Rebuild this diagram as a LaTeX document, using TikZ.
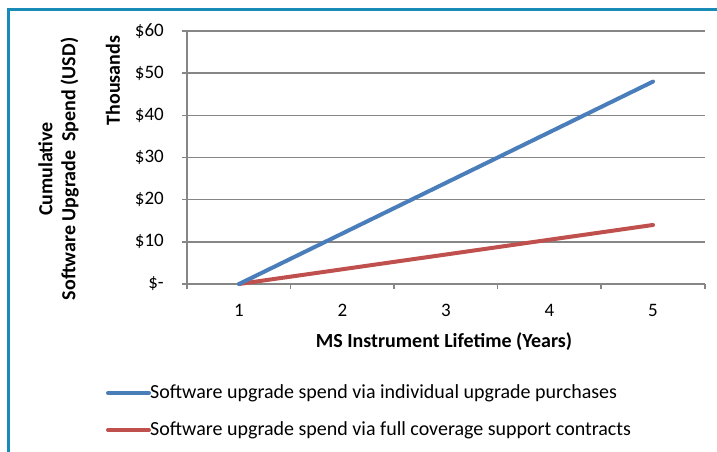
\documentclass[tikz,border=0pt]{standalone}
\usepackage{fontspec}
\setmainfont{Carlito}
\definecolor{frameblue}{RGB}{24,140,182}
\definecolor{gridgray}{RGB}{134,134,134}
\definecolor{serblue}{RGB}{74,126,187}
\definecolor{serred}{RGB}{192,80,77}
\begin{document}
\begin{tikzpicture}[x=1pt,y=-1pt,
  grid/.style={draw=gridgray,line width=1.4pt},
  series/.style={line width=4pt,line cap=round},
  tick/.style={font=\fontsize{19}{23}\selectfont,inner sep=0pt},
  axtitle/.style={font=\bfseries\fontsize{20}{23}\selectfont,inner sep=0pt},
  legtext/.style={font=\fontsize{20}{23}\selectfont,inner sep=0pt,anchor=west}]
\useasboundingbox (0,0) rectangle (717,452);
\fill[white] (0,0) rectangle (717,452);
% frame
\draw[frameblue,line width=3pt] (8,452) -- (8,10) -- (717,10);
% gridlines
\foreach \v in {0,10,20,30,40,50,60}{
  \pgfmathsetmacro{\yy}{284-\v*4.2167}
  \draw[grid] (182,\yy) -- (705,\yy);
}
% y axis
\draw[grid] (187,30.7) -- (187,289);
% x ticks
\foreach \xx in {290.5,394,497.5,601,705}{
  \draw[grid] (\xx,284) -- (\xx,289);
}
% y tick labels
\foreach \v/\t in {0/{\$-},10/{\$10},20/{\$20},30/{\$30},40/{\$40},50/{\$50},60/{\$60}}{
  \pgfmathsetmacro{\yy}{284-\v*4.2167}
  \node[tick,anchor=east] (yl\v) at (164,\yy) {\t};
}
% x tick labels
\foreach \n in {1,...,5}{
  \pgfmathsetmacro{\xx}{239+(\n-1)*103.5}
  \node[tick] (xl\n) at (\xx,310) {\n};
}
% data points
\coordinate (b1) at (239,284);
\coordinate (b5) at (653,{284-48*4.2167});
\coordinate (r1) at (239,284);
\coordinate (r5) at (653,{284-14*4.2167});
\draw[series,serred] (r1) -- (r5);
\draw[series,serblue] (b1) -- (b5);
% axis titles
\node[axtitle] (xt) at (444,342) {MS Instrument Lifetime (Years)};
\node[axtitle,rotate=90] (th) at (113,80.5) {Thousands};
\node[axtitle,rotate=90,align=center] (yt) at (58.5,169) {Cumulative\\Software Upgrade\ \ Spend (USD)};
% legend
\coordinate (l1a) at (108,393);
\coordinate (l1b) at (149,393);
\coordinate (l2a) at (108,430);
\coordinate (l2b) at (149,430);
\draw[series,serblue] (l1a) -- (l1b);
\draw[series,serred] (l2a) -- (l2b);
\node[legtext] (lg1) at (150,393) {Software upgrade spend via individual upgrade purchases};
\node[legtext] (lg2) at (150,430) {Software upgrade spend via full coverage support contracts};
\end{tikzpicture}
\end{document}
